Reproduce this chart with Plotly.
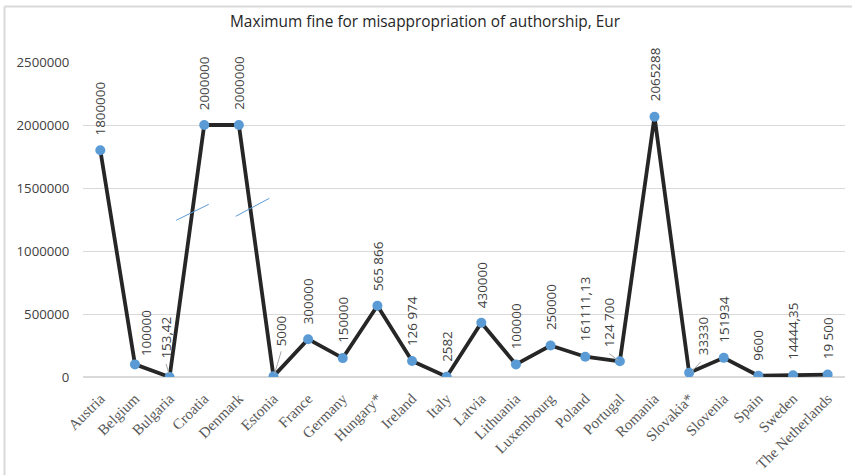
import plotly.graph_objects as go

countries = ["Austria", "Belgium", "Bulgaria", "Croatia", "Denmark", "Estonia", "France",
             "Germany", "Hungary*", "Ireland", "Italy", "Latvia", "Lithuania", "Luxembourg",
             "Poland", "Portugal", "Romania", "Slovakia*", "Slovenia", "Spain", "Sweden",
             "The Netherlands"]
fines = [1800000, 100000, 153.42, 2000000, 2000000, 5000, 300000,
         150000, 565866, 126974, 2582, 430000, 100000, 250000,
         161111.13, 124700, 2065288, 33330, 151934, 9600, 14444.35,
         19500]
fine_labels = ["1800000", "100000", "153,42", "2000000", "2000000", "5000", "300000",
               "150000", "565 866", "126 974", "2582", "430000", "100000", "250000",
               "161111,13", "124 700", "2065288", "33330", "151934", "9600", "14444,35",
               "19 500"]
y_ticks = [0, 500000, 1000000, 1500000, 2000000, 2500000]

# label placement tweaks (xshift px, gap px above point)
label_offsets = {"Belgium": (11.7, 8), "Bulgaria": (-3.6, 18.4), "Estonia": (8.4, 30.4),
                 "Portugal": (-10, 14.3), "Slovakia*": (14, 17.7)}
# leader lines in pixels relative to point (x0, y0, x1, y1), y up
leaders = {"Bulgaria": (-0.5, 3, -3.5, 13), "Estonia": (1, 2.4, 7.7, 25),
           "Portugal": (-1.7, 1, -10.7, 7.7), "Slovakia*": (2.4, 1, 11.7, 11)}

fig = go.Figure()
fig.add_trace(go.Scatter(
    x=list(range(len(countries))), y=fines, mode="lines+markers",
    line=dict(color="#262626", width=3.8),
    marker=dict(color="#5B9BD5", size=10, line=dict(width=0)),
    hoverinfo="skip", showlegend=False))

annotations = []
for i, (c, v, t) in enumerate(zip(countries, fines, fine_labels)):
    dx, gap = label_offsets.get(c, (0, 15))
    annotations.append(dict(
        x=i, y=v, xref="x", yref="y", text=t, showarrow=False, textangle=-90,
        xanchor="center", yanchor="bottom", xshift=dx, yshift=gap - 1,
        borderpad=0,
        font=dict(family="Open Sans", size=13.4, color="#404040")))

# title
annotations.append(dict(
    text="Maximum fine for misappropriation of authorship, Eur",
    xref="paper", yref="paper", x=(425 - 83) / 762, y=(377 - 21.7) / 315,
    xanchor="center", yanchor="middle", showarrow=False,
    font=dict(family="Open Sans", size=15.4, color="#262626")))

shapes = []
for i, c in enumerate(countries):
    if c in leaders:
        x0, y0, x1, y1 = leaders[c]
        shapes.append(dict(type="line", xref="x", yref="y", xsizemode="pixel",
                           ysizemode="pixel", xanchor=i, yanchor=fines[i],
                           x0=x0, y0=y0, x1=x1, y1=y1,
                           line=dict(color="#a6a6a6", width=1)))

# axis-break style slashes
shapes.append(dict(type="line", xref="x", yref="y", x0=2.19, y0=1243650, x1=3.13, y1=1370635,
                   line=dict(color="#5B9BD5", width=1)))
shapes.append(dict(type="line", xref="x", yref="y", x0=3.91, y0=1275397, x1=4.88, y1=1418254,
                   line=dict(color="#5B9BD5", width=1)))
# chart border (top and left)
shapes.append(dict(type="line", xref="paper", yref="paper", x0=(4.5 - 83) / 762, x1=1.01,
                   y0=(377 - 6.5) / 315, y1=(377 - 6.5) / 315, line=dict(color="#d9d9d9", width=2)))
shapes.append(dict(type="line", xref="paper", yref="paper", x0=(4.5 - 83) / 762, x1=(4.5 - 83) / 762,
                   y0=(377 - 6.5) / 315, y1=-0.32, line=dict(color="#d9d9d9", width=2)))

fig.update_layout(
    width=852, height=475,
    margin=dict(l=83, r=7, t=62, b=98, autoexpand=False),
    paper_bgcolor="white", plot_bgcolor="white",
    xaxis=dict(range=[-0.5, len(countries) - 0.5], tickmode="array",
               tickvals=list(range(len(countries))), ticktext=countries,
               tickangle=-45, showgrid=False, zeroline=False, showline=False,
               automargin=False, ticks="outside", ticklen=6, tickcolor="rgba(0,0,0,0)",
               tickfont=dict(family="Liberation Serif", size=15, color="#595959")),
    yaxis=dict(range=[0, 2500000], tickvals=y_ticks, tickformat="d",
               showgrid=True, gridcolor="#d9d9d9", gridwidth=1,
               zeroline=True, zerolinecolor="#d9d9d9", zerolinewidth=2,
               showline=False, ticks="outside", ticklen=10, tickcolor="rgba(0,0,0,0)",
               automargin=False,
               tickfont=dict(family="Open Sans", size=13.2, color="#404040")),
    annotations=annotations, shapes=shapes,
)

fig.write_html("out.html", config={"displayModeBar": False},
               post_script="document.body.style.margin='0';")
